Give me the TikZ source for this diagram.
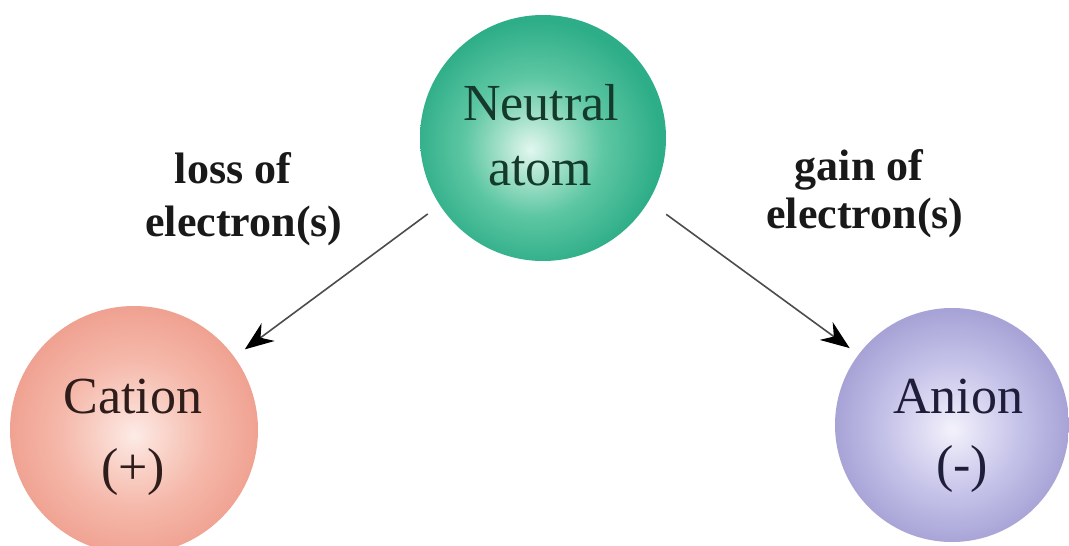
\documentclass[tikz,border=0pt]{standalone}
\usepackage{fontspec}
\setmainfont{Liberation Serif}
\usetikzlibrary{arrows.meta}
\definecolor{tealC}{HTML}{E2F7EF}
\definecolor{tealM1}{HTML}{A8E2CC}
\definecolor{tealM2}{HTML}{5EC7A3}
\definecolor{tealE}{HTML}{2EAE88}
\definecolor{salC}{HTML}{FDEBE6}
\definecolor{salM1}{HTML}{F9D2C8}
\definecolor{salM2}{HTML}{F5B8AA}
\definecolor{salE}{HTML}{F0A292}
\definecolor{purC}{HTML}{F3F2FB}
\definecolor{purM1}{HTML}{DCDAF2}
\definecolor{purM2}{HTML}{C3C0E8}
\definecolor{purE}{HTML}{A7A3D6}
\definecolor{txtN}{HTML}{143A2C}
\definecolor{txtC}{HTML}{2E1D1A}
\definecolor{txtA}{HTML}{1E1E3A}
\pgfdeclareradialshading{tealball}{\pgfpoint{-2.6bp}{-2.4bp}}{color(0bp)=(tealC); color(6bp)=(tealM1); color(14bp)=(tealM2); color(25bp)=(tealE); color(50bp)=(tealE)}
\pgfdeclareradialshading{salball}{\pgfpoint{0bp}{-1bp}}{color(0bp)=(salC); color(7bp)=(salM1); color(15bp)=(salM2); color(25bp)=(salE); color(50bp)=(salE)}
\pgfdeclareradialshading{purball}{\pgfpoint{0bp}{-1bp}}{color(0bp)=(purC); color(7bp)=(purM1); color(15bp)=(purM2); color(25bp)=(purE); color(50bp)=(purE)}
\tikzset{
  ball/.style={circle, inner sep=0pt, outer sep=0pt, shading=#1},
  bigtxt/.style={anchor=base, inner sep=0pt, font=\fontsize{52}{60}\selectfont},
  lbltxt/.style={anchor=base, inner sep=0pt, font=\fontsize{44}{50}\selectfont\bfseries, text=black!90},
  conn/.style={draw=black!70, line width=1.6pt, -{Stealth[length=29pt,width=22pt,color=black]}}
}
\begin{document}
\begin{tikzpicture}[x=1pt,y=1pt]
\useasboundingbox (0,0) rectangle (1069,-546);
\clip (0,0) rectangle (1069,-546);
\fill[white] (0,0) rectangle (1069,-546);
% balls
\node[ball=tealball, minimum size=246pt] (neutral) at (543,-138) {};
\node[ball=salball, minimum size=248pt] (cation) at (134,-430) {};
\node[ball=purball, minimum size=234pt] (anion) at (952,-425) {};
% ball texts
\node[bigtxt, text=txtN] (neutralA) at (541,-120) {Neutral};
\node[bigtxt, text=txtN] (neutralB) at (540,-185) {atom};
\node[bigtxt, text=txtC] (cationA) at (133,-413) {Cation};
\node[bigtxt, text=txtC] (cationB) at (133,-484) {(+)};
\node[bigtxt, text=txtA] (anionA) at (958,-413) {Anion};
\node[bigtxt, text=txtA] (anionB) at (962,-481) {(-)};
% labels
\node[lbltxt] (lossA) at (233,-183) {loss of};
\node[lbltxt] (lossB) at (244,-236) {electron(s)};
\node[lbltxt] (gainA) at (859,-180) {gain of};
\node[lbltxt] (gainB) at (865,-228) {electron(s)};
% connectors
\draw[conn, shorten <=15pt, shorten >=13pt] (neutral.213) -- (cation.36);
\draw[conn, shorten <=22pt, shorten >=11pt] (neutral.329) -- (anion.143);
\end{tikzpicture}
\end{document}
